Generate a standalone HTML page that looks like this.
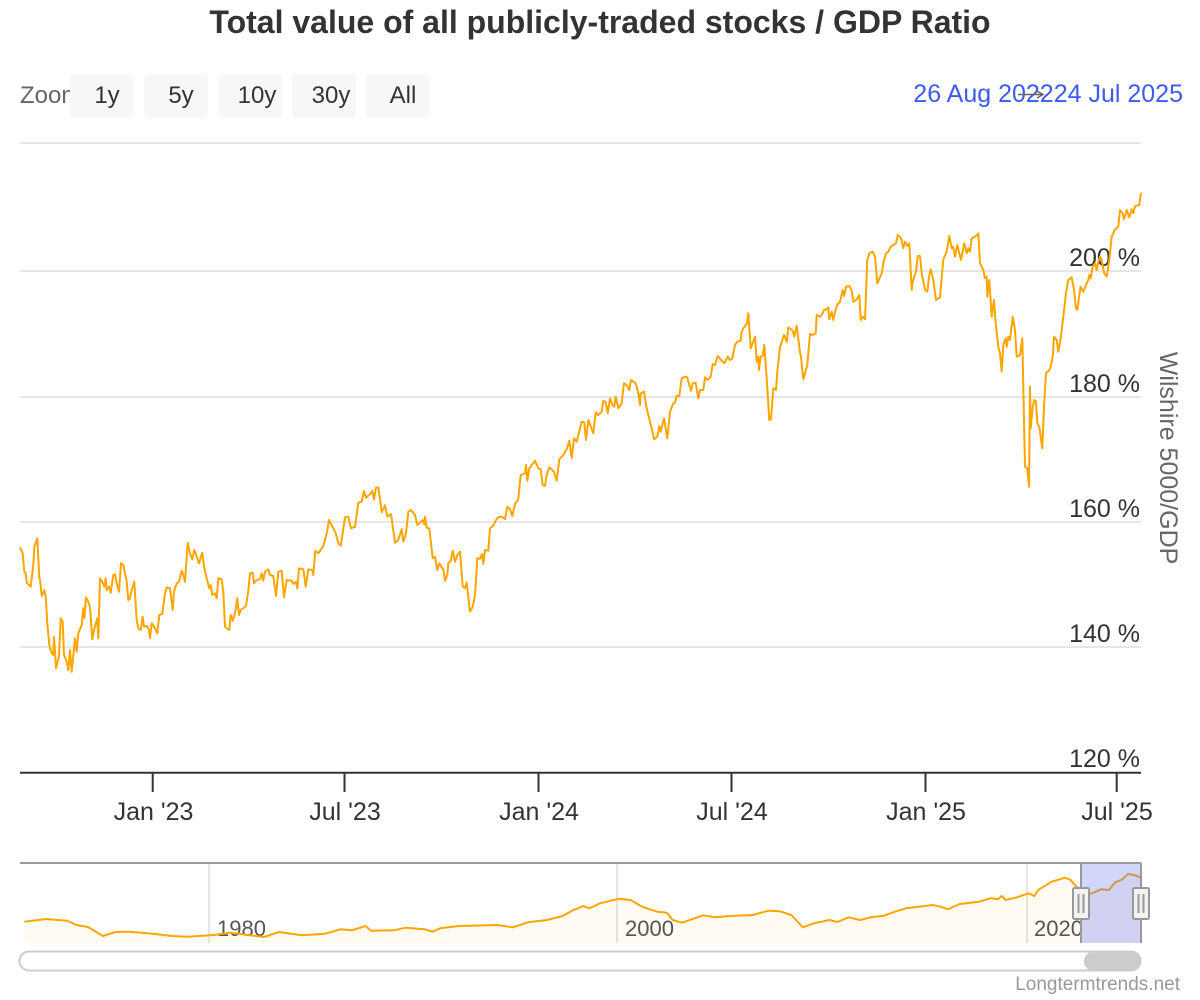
<!DOCTYPE html>
<html>
<head>
<meta charset="utf-8">
<style>
  html, body { margin: 0; padding: 0; background: #ffffff; }
  svg { display: block; font-family: "Liberation Sans", Arial, sans-serif; }
</style>
</head>
<body>
<svg width="1200" height="1000" viewBox="0 0 1200 1000" xmlns="http://www.w3.org/2000/svg">
  <rect x="0" y="0" width="1200" height="1000" fill="#ffffff"/>

  <!-- Title -->
  <text x="600" y="33" text-anchor="middle" font-size="32" font-weight="bold" fill="#333333">Total value of all publicly-traded stocks / GDP Ratio</text>

  <!-- Range selector -->
  <text x="20" y="103" font-size="24" fill="#666666">Zoom</text>
  <g font-size="24" fill="#333333" text-anchor="middle">
    <rect x="70" y="74" width="64" height="44" rx="4" fill="#f7f7f7"/>
    <text x="107" y="103">1y</text>
    <rect x="144" y="74" width="64" height="44" rx="4" fill="#f7f7f7"/>
    <text x="181" y="103">5y</text>
    <rect x="218" y="74" width="64" height="44" rx="4" fill="#f7f7f7"/>
    <text x="257" y="103">10y</text>
    <rect x="292" y="74" width="64" height="44" rx="4" fill="#f7f7f7"/>
    <text x="331" y="103">30y</text>
    <rect x="366" y="74" width="64" height="44" rx="4" fill="#f7f7f7"/>
    <text x="403" y="103">All</text>
  </g>

  <!-- Date range -->
  <text x="1183" y="102" text-anchor="end" font-size="25" fill="#3c5bf5"><tspan>26 Aug 2022</tspan><tspan>24 Jul 2025</tspan></text>
  <path d="M1018 94.5 L1042 94.5 M1037 91 L1043 94.5 L1037 98" stroke="#666666" stroke-width="1.5" fill="none"/>

  <!-- Grid lines -->
  <g stroke="#e6e6e6" stroke-width="2">
    <line x1="20" y1="143" x2="1141" y2="143"/>
    <line x1="20" y1="271" x2="1141" y2="271"/>
    <line x1="20" y1="397" x2="1141" y2="397"/>
    <line x1="20" y1="522" x2="1141" y2="522"/>
    <line x1="20" y1="647" x2="1141" y2="647"/>
  </g>

  <!-- Y axis labels -->
  <g font-size="25" fill="#333333" text-anchor="end">
    <text x="1140" y="266">200 %</text>
    <text x="1140" y="392">180 %</text>
    <text x="1140" y="517">160 %</text>
    <text x="1140" y="642">140 %</text>
    <text x="1140" y="767">120 %</text>
  </g>
  <text transform="translate(1160,458) rotate(90)" text-anchor="middle" font-size="25" fill="#666666">Wilshire 5000/GDP</text>

  <!-- Main series -->
  <polyline fill="none" stroke="#ffa500" stroke-width="2" stroke-linejoin="round" points="
20,547.3 22.7,553.3 24.3,571.7 25.7,573.3 26.7,582.7 30.7,586.7 33.3,565 34.3,547.3 37.3,538.3 39.3,578.3 40,579.3 41.7,596 44.3,590 45.7,596.7 47.3,623.3 49.3,645 51.7,653.3 53.3,655 54,636.7 56,668.3 59,656 60.7,618.3 62.7,621.7 64,655 66.7,661.7 68.3,670 70,650 71.7,671.7 75,638.3 76.7,651.7 78.3,633.3 81.7,625 83.3,608.3 84.3,618.3 86,597.3 88.3,601.7 90,607.3 92.3,639.3 94,630 97.3,618.3 98.3,638.3 100,578.3 102.3,581.7 104.3,586.7 105.7,578.3 106.7,590 109,586.7 110.7,592.7 113.3,575 115,574.3 116.7,583.3 119,591.7 121,563.3 123.3,565 126.7,581.7 128.3,600 130,598.3 131.7,590 134.3,581.7 136.7,620 138.3,628.3 140.7,630 142.7,616.7 144,626.7 146.7,626 149,630 150,638.3 151.7,623.3 155,628.3 157.3,633.3 159.3,615 162.3,614 165,593.3 166.7,587.3 170,588.3 172.7,610 174,591.7 176.7,583.3 179,581.7 181.7,570.7 183.3,575 185,581.7 187.7,542.7 190,553.3 192.3,559.3 194.3,550 196.7,556.7 199,563.3 202.3,552.7 204,566.7 206.7,578.3 209.3,588.3 210.7,585 212.3,595 215,593.3 216.7,598.3 218.3,578.3 221.7,579.3 223.3,591.7 225,626.7 226.7,628.3 229.3,630 230.7,615 232.7,620.7 235,613.3 237.3,598.3 239,615 240.7,610 243.3,608.3 246,606 248.3,590.7 250,573.3 252.7,572.7 254,583.3 256.7,580 260,579.3 261.7,573.3 263.3,580.7 265,571.7 268.3,569.3 270,575 273.3,576 276,596 278.3,571.7 281.7,570.7
284,597.3 286.7,580 291.7,580.7 293.3,584 296,581.7 297.3,588.3 299,568.3 303.3,569.3 305.7,586.7 308.3,569.3 312.3,570 313.3,575 315.3,550.7 318.3,553.3 323.3,546 326.7,533.3 329,520 333.3,528.3 335.7,533.3 338.3,543.3 340.7,545.7 342.7,533.3 345,517.3 348.3,516.7 351,528.3 355,526.7 358.3,502.7 361.7,501.7 364,491 366,497.7 370,494.3 372.3,491 374,499.3 376,487.7 378.3,487.3 380.7,504 381.7,512.3 385,505.3 387.3,516.7 391,514 395,542.7 398.3,540 401.7,529.3 403.3,541.7 406,533.3 408.3,511.7 411,510 415,515 417.3,525 420,522.7 422.7,520 424.3,524.3 425,516.7 426.7,527.7 429.3,528.7 432.7,558.3 435,556.7 437.3,570 439.3,563.3 441.7,567.3 443.3,569.3 445,580.7 447.3,575 448.3,563.3 450.7,560.7 452.7,550.7 455,561.7 457.3,555 460,551.7 462.7,586.7 465,588.3 466.7,582.7 470,611.7 472.7,606.7 475,595 477.3,558.3 480,558.7 482,554 483.3,564 485,550 488.3,550.7 490,528.3 493.3,525.7 496,520 498.3,517.3 501.7,516.7 505,519 507.3,506.7 510,509 512.3,516 515,504 518.3,499.3 520.7,475 525,473.3 526,465 527.3,480.7 529.3,468.3 535,460.7 538.3,468.3 540.7,469.3 542.7,485 545,486 546.7,475 549.3,467.3 554,471.7 556.7,480.7 559.3,459.3 563.3,455 566.7,449.3 569.3,440.7
571.7,458.3 574,438.3 576.7,441.7 581.7,421.7 584.3,422.3 586,440 588.3,420 593.3,433.3 595.7,412.3 598.3,415 601.7,411.7 603.3,400.7 605.7,402 607.7,413.3 610,398.3 612.7,405.7 614.3,406.7 615.7,396.7 618.3,408.3 621.7,403.3 624,383.3 626.7,385 629.3,390 631,380 635.7,383.3 638.3,393.3 640,405 640.7,393.3 644,391.7 646,405 648.3,415 651.7,428.3 654,439.3 657.3,436.7 659.3,426 660.7,431.7 664,418.3 667.3,438.3 670,411.7 673.3,403.3 675,402.7 676.7,395.7 679.3,396 681.7,378.3 685,376.7 687.3,377.3 688.3,381.7 691,390.7 692.7,383.3 695.7,382.7 698.3,398.3 700,390 703.3,390 705,377.3 707.7,380 710.7,376.7 712.7,364 715,365 717.7,356 721.7,360.7 724.3,363.3 727.7,356.7 730,360 732.3,358.3 735,345 737.3,341.7 740.7,340.7 741.7,331.7 743.3,328.3 746.7,324 748.3,313.3 750.7,348.3 755,336.7 756.7,361.7 758.3,356.7 759,370 760.7,356.7 762.7,356 764.3,345 766.7,378.3 769.3,420 771,419.3 773.3,388.3 776,390 777.3,371.7 780,347.3 784,335 786.7,341.7 788.3,327.3 792.7,330.7 794.3,336.7 796.7,325.7 800,352.7 801,356.7 803.3,379.3 807.3,365 810,334 812.7,335 815.7,333.3 816.7,315 820,316.7 822.3,314 824,310 826.7,309.3 828.3,307.3 829.3,319.3 831.7,311.7 833.3,320 835.7,309.3 837.7,304 840,301.7 842.7,290 844,296 846,286.7 849.3,286 851.7,290.7 853.3,301.7 856.7,299.3 859.3,295 860.7,320 862.7,316.7 865,319.3
867.3,260 869.3,253.3 872.7,251.7 875,256.7 877.3,283.3 881.7,273.3 883.3,263.3 886,253.3 888.3,251.7 890.7,246.7 893.3,245 896,243.3 897.7,235 900,236.7 901.7,240 903.3,248.3 905,241.7 907.3,246 909.3,243.3 911.7,290 912.7,281.7 916,271.7 917.7,256 920,256 921.7,273.3 925,290 927.3,291.7 929,276.7 930.7,269.3 933.3,280 936,300 938.3,298.3 940,297.3 943.3,259.3 946.7,251.7 949.3,236 951.7,248.3 953.3,246.7 955,256.7 957.3,245 959.3,253.3 961,260 964.3,243.3 966.7,253.3 968.3,248.3 970,251.7 971.7,238.3 976,236 978.3,233.3 980,263.3 983.3,270 985,278.3 986.7,276.7 987.3,296.7 989.3,280 991.7,316.7 994,300 995.7,323.3 998.3,346.7 1000,353.3 1001.7,371.7 1003.3,345 1005.7,338.3 1006.7,346.7 1008.3,336.7 1010,340 1012.7,316.7 1015,330 1016.7,356.7 1020,355 1022.3,338.3 1023.3,386.7 1025,466.7 1027.3,468.3 1029,486.7 1030,386.7 1030.7,428.3 1032.7,406.7 1034.3,400 1036,401.7 1037.3,423.3 1039.3,426.7 1042.3,448.3 1044,406.7 1046,373.3 1049.3,370 1050.7,366.7 1052.7,356.7 1054,336.7 1056.7,340 1058.3,351.7 1060.7,338.3 1063.3,316.7 1066,292.7 1068.3,280 1071.7,277.3 1074,290 1076,308.3 1077.3,310 1079.3,295 1080.7,286.7 1083.3,291.7 1086.7,283.3 1088.3,280 1089.3,275 1090.7,278.3 1092.7,266.7 1095,263.3 1096.7,270 1098.3,261.7 1100,256.7 1101.7,260 1104,272.7
1106.7,276.7 1109.3,260 1111.7,236.7 1115,229.3 1118.3,226.7 1120,210 1122.7,213.3 1124,219.3 1126.7,210 1129.3,217.3 1131.7,209.3 1133.3,213.3 1135,206 1139.3,205 1141,192.7"/>

  <!-- X axis -->
  <line x1="20" y1="772.7" x2="1141" y2="772.7" stroke="#333333" stroke-width="2"/>
  <g stroke="#333333" stroke-width="2">
    <line x1="152.7" y1="772" x2="152.7" y2="792"/>
    <line x1="344.5" y1="772" x2="344.5" y2="792"/>
    <line x1="538.5" y1="772" x2="538.5" y2="792"/>
    <line x1="731.5" y1="772" x2="731.5" y2="792"/>
    <line x1="925.5" y1="772" x2="925.5" y2="792"/>
    <line x1="1116.7" y1="772" x2="1116.7" y2="792"/>
  </g>
  <g font-size="25" fill="#333333" text-anchor="middle">
    <text x="153.5" y="820">Jan '23</text>
    <text x="345" y="820">Jul '23</text>
    <text x="539" y="820">Jan '24</text>
    <text x="732" y="820">Jul '24</text>
    <text x="926" y="820">Jan '25</text>
    <text x="1117" y="820">Jul '25</text>
  </g>

  <!-- Navigator -->
  <g stroke="#e6e6e6" stroke-width="2">
    <line x1="209" y1="863" x2="209" y2="943"/>
    <line x1="617" y1="863" x2="617" y2="943"/>
    <line x1="1027" y1="863" x2="1027" y2="943"/>
  </g>
  <polygon fill="rgba(255,165,0,0.05)" stroke="none" points="24.5,943 24.5,921.7 46,919 67,920.7 76.5,925 88,927 103,936 115,932 130,931.7 153,933.7 172,936 187.5,936.7 214,935 230,932.7 264,937 279,932 302,935.3 325,933.7 340.6,929.3 352,930.3 365.5,926 371,930.7 394,930.3 405.7,927.7 424.8,929.3 432.5,931.7 440,928.3 459,926 497.5,925 512.8,927.3 528,922.3 547,920 562.6,916 572,910.7 583.6,906 589.4,908.3 600,903.3 619,898.7 630.6,900 642,906.7 657.4,911.7 667,912.7 672.7,920 682,922.7 691.8,919.3 703,915.3 714.8,917.3 730,916 753,915 768.4,910.7 780,911.3 791.4,915 802.8,927.3 814,923.3 829.6,920 837.3,922 848.8,917.3 860.2,920 871.7,917 883,916 894.7,911.7 906,908.3 933,905 940.6,906.7 948,909.3 959.7,904 979,901.7 990.4,898.3 998,899.3 1001.8,896 1005.7,900 1017,897.3 1028.6,893.3 1034.4,896 1038.2,890 1051.6,881.7 1065,877.7 1070.7,880 1076.5,886.7 1089.9,894 1101.3,889.3 1109,890 1114.7,882.7 1122.4,879.3 1128,874 1133.9,875 1140.8,877.3 1140.8,943"/>
  <g font-size="22" fill="#555555">
    <text x="217" y="936">1980</text>
    <text x="625" y="936">2000</text>
    <text x="1034" y="936">2020</text>
  </g>
  <polyline fill="none" stroke="#ffa500" stroke-width="2" stroke-linejoin="round" points="24.5,921.7 46,919 67,920.7 76.5,925 88,927 103,936 115,932 130,931.7 153,933.7 172,936 187.5,936.7 214,935 230,932.7 264,937 279,932 302,935.3 325,933.7 340.6,929.3 352,930.3 365.5,926 371,930.7 394,930.3 405.7,927.7 424.8,929.3 432.5,931.7 440,928.3 459,926 497.5,925 512.8,927.3 528,922.3 547,920 562.6,916 572,910.7 583.6,906 589.4,908.3 600,903.3 619,898.7 630.6,900 642,906.7 657.4,911.7 667,912.7 672.7,920 682,922.7 691.8,919.3 703,915.3 714.8,917.3 730,916 753,915 768.4,910.7 780,911.3 791.4,915 802.8,927.3 814,923.3 829.6,920 837.3,922 848.8,917.3 860.2,920 871.7,917 883,916 894.7,911.7 906,908.3 933,905 940.6,906.7 948,909.3 959.7,904 979,901.7 990.4,898.3 998,899.3 1001.8,896 1005.7,900 1017,897.3 1028.6,893.3 1034.4,896 1038.2,890 1051.6,881.7 1065,877.7 1070.7,880 1076.5,886.7 1089.9,894 1101.3,889.3 1109,890 1114.7,882.7 1122.4,879.3 1128,874 1133.9,875 1140.8,877.3"/>

  <!-- Navigator mask -->
  <rect x="1081" y="863" width="60" height="80" fill="rgba(102,120,240,0.3)"/>
  <!-- Navigator outline -->
  <path d="M20 863 L1141 863 M1081 863 L1081 943 M1141 863 L1141 943" stroke="#999999" stroke-width="2" fill="none"/>

  <!-- Handles -->
  <g stroke="#999999" stroke-width="2">
    <rect x="1073" y="888" width="16" height="31" rx="1.5" fill="#f2f2f2"/>
    <line x1="1078.5" y1="894" x2="1078.5" y2="913"/>
    <line x1="1083.5" y1="894" x2="1083.5" y2="913"/>
    <rect x="1133" y="888" width="16" height="31" rx="1.5" fill="#f2f2f2"/>
    <line x1="1138.5" y1="894" x2="1138.5" y2="913"/>
    <line x1="1143.5" y1="894" x2="1143.5" y2="913"/>
  </g>

  <!-- Scrollbar -->
  <rect x="19.5" y="951.5" width="1121" height="19" rx="9.5" fill="#ffffff" stroke="#cccccc" stroke-width="2"/>
  <rect x="1084" y="951.5" width="57" height="19.5" rx="9.75" fill="#cccccc"/>

  <!-- Credits -->
  <text x="1180" y="990" text-anchor="end" font-size="19" fill="#999999">Longtermtrends.net</text>
</svg>
</body>
</html>
